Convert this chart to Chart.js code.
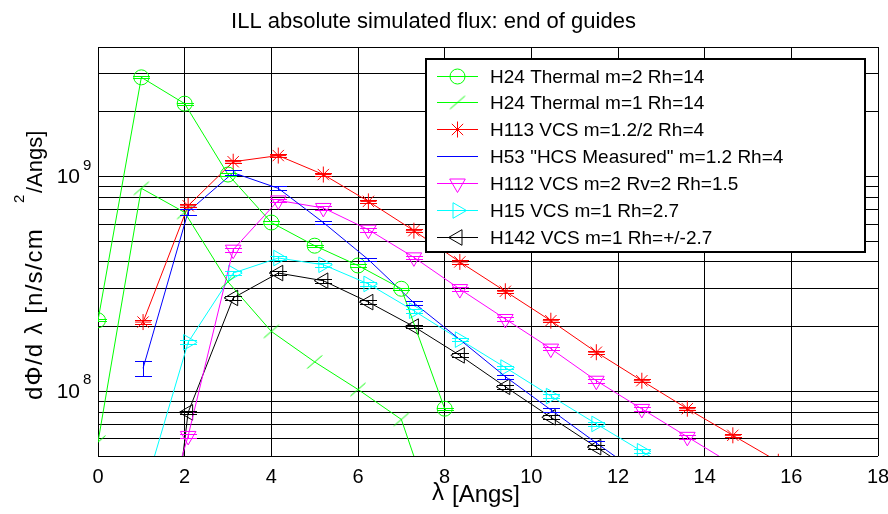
<!DOCTYPE html>
<html><head><meta charset="utf-8">
<script src="https://cdn.jsdelivr.net/npm/chart.js@4.4.1/dist/chart.umd.min.js"></script>
<style>html,body{margin:0;padding:0;background:#fff}#wrap{width:888px;height:514px;position:relative}</style>
</head><body><div id="wrap"><canvas id="c"></canvas></div>
<script>
// ---- data ----
const lambdaThermal = [0, 1, 2, 3, 4, 5, 6, 7, 8];
const fluxH24m2 = [2.14e8, 2.89e9, 2.18e9, 1.02e9, 6.1e8, 4.76e8, 3.85e8, 3.0e8, 8.3e7];
const fluxH24m1 = [5.8e7, 8.8e8, 6.8e8, 3.23e8, 1.9e8, 1.37e8, 1.02e8, 7.4e7, 1.9e7];
const lambdaVCS = [1.04, 2.08, 3.12, 4.16, 5.2, 6.24, 7.29, 8.35, 9.4, 10.45, 11.5, 12.55, 13.6, 14.65, 15.7];
const fluxH113 = [2.1e8, 7.3e8, 1.17e9, 1.25e9, 1.02e9, 7.65e8, 5.59e8, 4.0e8, 2.92e8, 2.13e8, 1.52e8, 1.12e8, 8.3e7, 6.24e7, 4.7e7];
const fluxH53 = [1.28e8, 6.85e8, 1.04e9, 8.8e8, 6.1e8, 4.1e8, 2.58e8, 1.74e8, 1.17e8, 8.2e7, 5.75e7, 4.06e7];
const errH53 = [0.08, 0.03, 0.025, 0.02, 0.02, 0.02, 0.02, 0.02, 0.02, 0.02, 0.02, 0.02];
const fluxH112 = [1.2e7, 6.2e7, 4.56e8, 7.73e8, 7.13e8, 5.65e8, 4.2e8, 2.99e8, 2.17e8, 1.58e8, 1.12e8, 8.28e7, 6.14e7, 4.56e7];
const fluxH15 = [3.3e7, 1.69e8, 3.55e8, 4.17e8, 3.88e8, 3.16e8, 2.37e8, 1.74e8, 1.29e8, 9.5e7, 7.05e7, 5.26e7, 3.9e7];
const fluxH142 = [1.5e6, 7.98e7, 2.72e8, 3.55e8, 3.27e8, 2.6e8, 2.0e8, 1.47e8, 1.05e8, 7.57e7, 5.5e7, 4.0e7];
const seriesLabels = ['H24 Thermal m=2 Rh=14', 'H24 Thermal m=1 Rh=14', 'H113 VCS m=1.2/2 Rh=4',
  'H53 "HCS Measured" m=1.2 Rh=4', 'H112 VCS m=2 Rv=2 Rh=1.5', 'H15 VCS m=1 Rh=2.7', 'H142 VCS m=1 Rh=+/-2.7'];
const xTicks = [0, 2, 4, 6, 8, 10, 12, 14, 16, 18];
const yGridValues = [5e7, 6e7, 7e7, 8e7, 9e7, 1e8, 2e8, 3e8, 4e8, 5e8, 6e8, 7e8, 8e8, 9e8, 1e9, 2e9, 3e9, 4e9];
const yLabelDecades = [8, 9];
const titleText = 'ILL absolute simulated flux: end of guides';

const FONT = "'Liberation Sans', Arial, Helvetica, sans-serif";

function slashMarker(color) {
  const c = document.createElement('canvas'); c.width = 18; c.height = 16;
  const g = c.getContext('2d'); g.strokeStyle = color; g.lineWidth = 1;
  g.beginPath(); g.moveTo(1.5, 14.5); g.lineTo(16.5, 1.5); g.stroke();
  return c;
}
function pts(xs, ys) { return ys.map((v, i) => ({x: xs[i], y: v})); }

function ds(label, xs, ys, color, style, radius, rot, err) {
  return {
    label, data: pts(xs, ys), borderColor: color, backgroundColor: color,
    borderWidth: 1, pointStyle: style, pointRadius: radius, pointRotation: rot,
    pointBorderColor: color, pointBackgroundColor: 'rgba(0,0,0,0)', pointBorderWidth: 1,
    pointHoverRadius: radius, tension: 0, errFrac: err
  };
}
const G = '#00ff00';
const datasets = [
  ds(seriesLabels[0], lambdaThermal, fluxH24m2, G, 'circle', 7.5, 0, 0.012),
  ds(seriesLabels[1], lambdaThermal, fluxH24m1, G, slashMarker(G), 8, 0, null),
  ds(seriesLabels[2], lambdaVCS, fluxH113, '#ff0000', 'star', 8, 0, 0.018),
  ds(seriesLabels[3], lambdaVCS, fluxH53, '#0000ff', 'line', 0, 0, errH53),
  ds(seriesLabels[4], lambdaVCS, fluxH112, '#ff00ff', 'triangle', 9, 180, 0.02),
  ds(seriesLabels[5], lambdaVCS, fluxH15, '#00ffff', 'triangle', 9, 90, 0.02),
  ds(seriesLabels[6], lambdaVCS, fluxH142, '#000000', 'triangle', 9, 270, 0.02)
];

const annot = {
  id: 'annot',
  afterDatasetsDraw(chart) {
    const ctx = chart.ctx, a = chart.chartArea, xs = chart.scales.x, ys = chart.scales.y;
    // error bars
    ctx.save();
    ctx.beginPath(); ctx.rect(a.left, a.top, a.right - a.left, a.bottom - a.top); ctx.clip();
    chart.data.datasets.forEach(d => {
      if (d.errFrac == null) return;
      ctx.strokeStyle = d.borderColor; ctx.lineWidth = 1;
      d.data.forEach((p, i) => {
        const e = Array.isArray(d.errFrac) ? d.errFrac[i] : d.errFrac;
        const px = Math.round(xs.getPixelForValue(p.x)) + 0.5;
        const y1 = Math.round(ys.getPixelForValue(p.y * (1 + e))) + 0.5;
        const y2 = Math.round(ys.getPixelForValue(p.y * (1 - e))) + 0.5;
        ctx.beginPath();
        ctx.moveTo(px, y1); ctx.lineTo(px, y2);
        ctx.moveTo(px - 8.5, y1); ctx.lineTo(px + 8.5, y1);
        ctx.moveTo(px - 8.5, y2); ctx.lineTo(px + 8.5, y2);
        ctx.stroke();
      });
    });
    ctx.restore();
    // legend box
    ctx.save();
    const L = 426, T = 59, R = 865, B = 252;
    ctx.fillStyle = '#fff'; ctx.fillRect(L, T, R - L, B - T);
    ctx.strokeStyle = '#000'; ctx.lineWidth = 2; ctx.strokeRect(L, T, R - L, B - T);
    ctx.font = '19px ' + FONT; ctx.textBaseline = 'middle'; ctx.textAlign = 'left';
    chart.data.datasets.forEach((d, i) => {
      const y = Math.round(75.5 + i * 26.9) + 0.5;
      ctx.strokeStyle = d.borderColor; ctx.lineWidth = 1;
      ctx.beginPath(); ctx.moveTo(437, y); ctx.lineTo(478, y); ctx.stroke();
      if (d.pointRadius > 0) {
        ctx.fillStyle = 'rgba(0,0,0,0)';
        Chart.helpers.drawPoint(ctx, {pointStyle: d.pointStyle, rotation: d.pointRotation,
          radius: d.pointRadius, borderWidth: 1}, 457.5, y);
      }
      ctx.fillStyle = '#000';
      ctx.fillText(d.label, 490, y + 1);
    });
    ctx.restore();
  },
  afterDraw(chart) {
    const ctx = chart.ctx, ys = chart.scales.y;
    ctx.save();
    ctx.fillStyle = '#000';
    // title
    ctx.font = '22px ' + FONT; ctx.textAlign = 'center'; ctx.textBaseline = 'alphabetic';
    ctx.fillText(titleText, 433.5, 28);
    // y decade labels with superscript
    yLabelDecades.forEach(k => {
      const y = ys.getPixelForValue(Math.pow(10, k));
      ctx.font = '21px ' + FONT; ctx.textAlign = 'right'; ctx.textBaseline = 'middle';
      ctx.fillText('10', 80, y + 1);
      ctx.font = '15px ' + FONT; ctx.textAlign = 'left';
      ctx.fillText(String(k), 83, y - 11);
    });
    // x axis label
    ctx.textBaseline = 'alphabetic'; ctx.textAlign = 'left';
    ctx.font = '24px ' + FONT;
    ctx.fillText('λ', 432, 500);
    ctx.fillText('[Angs]', 452, 502);
    // y axis label (rotated)
    ctx.translate(42, 400); ctx.rotate(-Math.PI / 2);
    ctx.font = '24px ' + FONT;
    if ('letterSpacing' in ctx) ctx.letterSpacing = '1.2px';
    const main = 'dΦ/d λ [n/s/cm';
    ctx.fillText(main, 0, 0);
    if ('letterSpacing' in ctx) ctx.letterSpacing = '0px';
    ctx.font = '15px ' + FONT;
    ctx.fillText('2', 197, -18);
    ctx.font = '22px ' + FONT;
    ctx.fillText('/Angs]', 207, 0);
    ctx.restore();
  }
};

new Chart(document.getElementById('c'), {
  type: 'line',
  data: {datasets},
  plugins: [annot],
  options: {
    responsive: true, maintainAspectRatio: false, animation: false, devicePixelRatio: 1,
    layout: {padding: {top: 47, right: 9, left: 0, bottom: 0}},
    plugins: {legend: {display: false}, title: {display: false}, tooltip: {enabled: false}},
    events: [],
    scales: {
      x: {
        type: 'linear', min: 0, max: 18, position: 'bottom',
        afterBuildTicks: s => { s.ticks = xTicks.map(v => ({value: v})); },
        ticks: {font: {family: FONT, size: 20}, color: '#000', padding: 9, maxRotation: 0, autoSkip: false,
          callback: v => String(v)},
        grid: {color: '#000', lineWidth: 1, drawTicks: false},
        border: {display: false},
        afterFit: s => { s.height = 58; s.paddingLeft = 0; s.paddingRight = 0; }
      },
      y: {
        type: 'logarithmic', min: 5e7, max: 4e9,
        afterBuildTicks: s => { s.ticks = yGridValues.map(v => ({value: v})); },
        ticks: {callback: () => '', font: {size: 1}},
        grid: {color: '#000', lineWidth: 1, drawTicks: false},
        border: {display: false},
        afterFit: s => { s.width = 98; s.paddingTop = 0; s.paddingBottom = 0; }
      }
    }
  }
});
</script>
</body></html>
